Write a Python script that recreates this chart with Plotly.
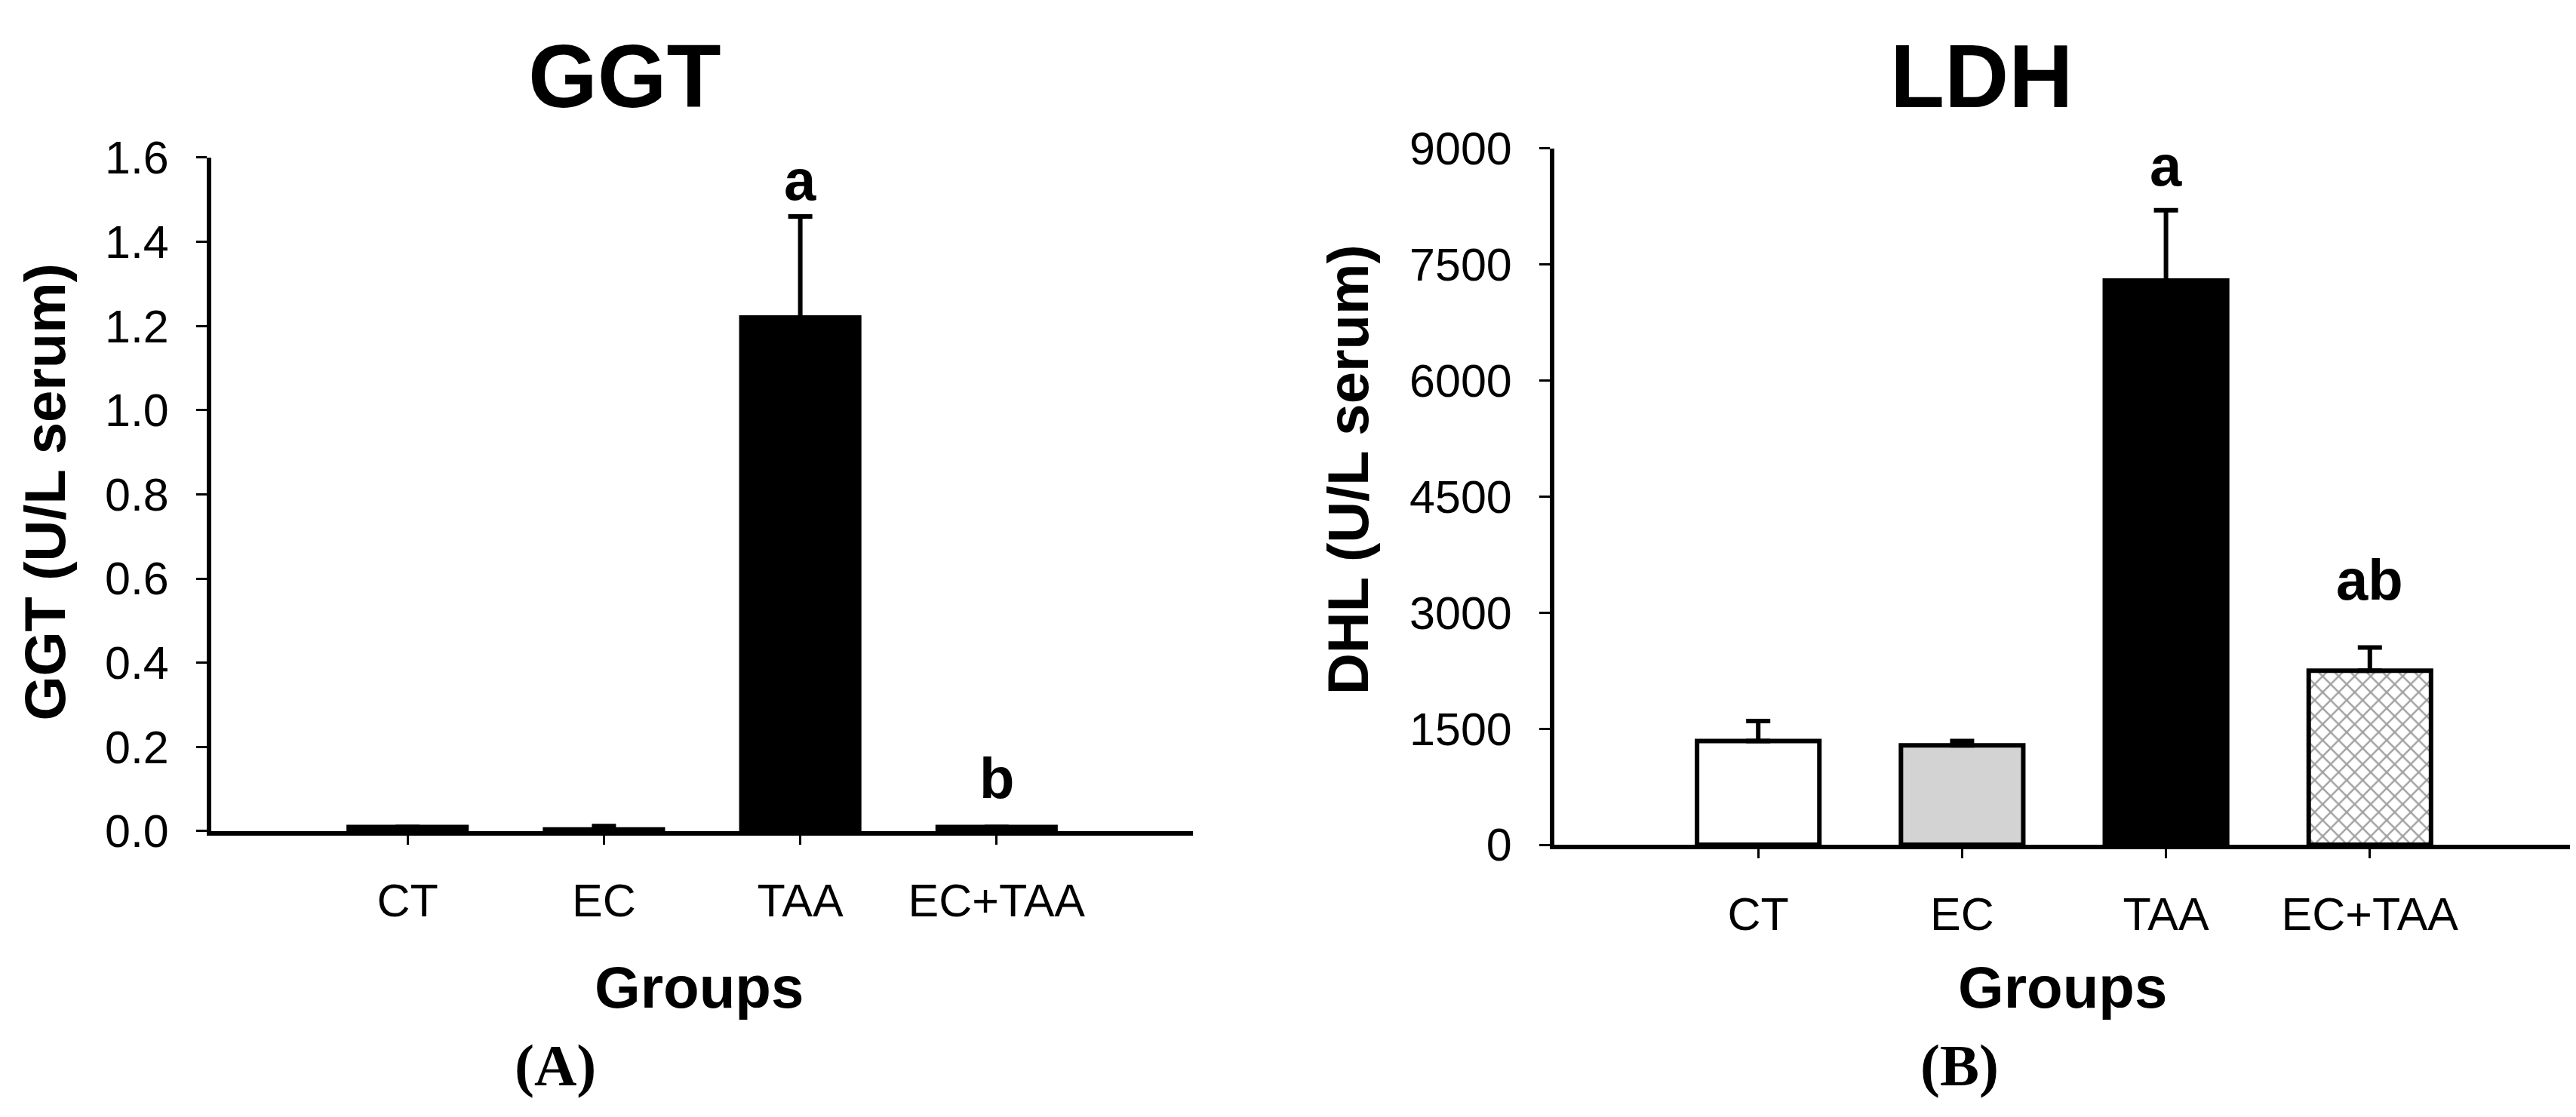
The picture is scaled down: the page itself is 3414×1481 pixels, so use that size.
import plotly.graph_objects as go

# ---------------- data ----------------
groups = ["CT", "EC", "TAA", "EC+TAA"]

ggt_mean = [0.010, 0.004, 1.22, 0.010]
ggt_err = [0.0, 0.008, 0.24, 0.0]
ggt_letters = ["", "", "a", "b"]
ggt_letter_y = [None, None, 1.496, 0.075]   # baseline of letter (data units)
ggt_ticks = [0, 0.2, 0.4, 0.6, 0.8, 1.0, 1.2, 1.4, 1.6]

ldh_mean = [1340, 1285, 7290, 2250]
ldh_err = [260, 55, 910, 300]
ldh_letters = ["", "", "a", "ab"]
ldh_letter_y = [None, None, 8500, 3150]
ldh_ticks = [0, 1500, 3000, 4500, 6000, 7500, 9000]

# ---------------- styles ----------------
W, H = 3414, 1481
fills = ["white", "#d3d3d3", "black", "white"]
patterns = ["", "", "", "x"]
SANS = "Liberation Sans, Arial, sans-serif"
SERIF = "Liberation Serif, Times New Roman, serif"

fig = go.Figure()

xpos = list(range(len(groups)))

def add_bars(means, errs, xa, ya):
    fig.add_trace(go.Bar(
        x=xpos, y=means, width=0.6,
        xaxis=xa, yaxis=ya,
        marker=dict(
            color=fills,
            line=dict(color="black", width=6),
            pattern=dict(shape=patterns, fgcolor="black", bgcolor="white",
                         size=15, solidity=0.3, fillmode="overlay"),
        ),
        error_y=dict(type="data", array=errs, arrayminus=[0] * len(errs),
                     symmetric=False, color="black", thickness=6, width=16),
        showlegend=False, hoverinfo="skip",
    ))

add_bars(ggt_mean, ggt_err, "x", "y")
add_bars(ldh_mean, ldh_err, "x2", "y2")

axis_common = dict(
    showline=True, linecolor="black", linewidth=6, mirror=False,
    showgrid=False, zeroline=False, ticks="outside", tickcolor="black",
    tickfont=dict(family=SANS, size=61, color="black"),
)

fig.update_layout(
    width=W, height=H,
    margin=dict(l=0, r=0, t=0, b=0),
    paper_bgcolor="white", plot_bgcolor="white",
    xaxis=dict(domain=[272 / W, 1573 / W], range=[-1, 4], anchor="y",
               tickvals=xpos, ticktext=groups, ticklen=12, tickwidth=3,
               ticklabelstandoff=22, **axis_common),
    yaxis=dict(domain=[1 - 1111 / H, 1 - 175 / H], range=[0, 1.6], anchor="x",
               tickvals=ggt_ticks, tickformat=".1f", ticklen=14, tickwidth=3,
               ticklabelstandoff=24, **axis_common),
    xaxis2=dict(domain=[2052 / W, 3403 / W], range=[-1, 4], anchor="y2",
                tickvals=xpos, ticktext=groups, ticklen=12, tickwidth=3,
                ticklabelstandoff=22, **axis_common),
    yaxis2=dict(domain=[1 - 1130 / H, 1 - 162 / H], range=[0, 9000], anchor="x2",
                tickvals=ldh_ticks, tickformat="d", ticklen=14, tickwidth=3,
                ticklabelstandoff=24, **axis_common),
)

ann = []
def txt(text, x, y, size, family=SANS, angle=0, xanchor="center", yanchor="middle"):
    ann.append(dict(text=text, x=x, y=y, xref="paper", yref="paper",
                    showarrow=False, textangle=angle, xanchor=xanchor, yanchor=yanchor,
                    font=dict(family=family, size=size, color="black")))

# titles
txt("<b>GGT</b>", 820 / W, 1 - 62 / H, 118)
txt("<b>LDH</b>", 2618 / W, 1 - 62 / H, 118)
# y titles
txt("<b>GGT (U/L serum)</b>", 52 / W, 1 - 640 / H, 76, angle=-90)
txt("<b>DHL (U/L serum)</b>", 1778 / W, 1 - 609 / H, 76, angle=-90)
# x titles
txt("<b>Groups</b>", 918 / W, 1 - 1328 / H, 78)
txt("<b>Groups</b>", 2725 / W, 1 - 1328 / H, 78)
# panel labels
txt("<b>(A)</b>", 728 / W, 1 - 1436 / H, 78, family=SERIF)
txt("<b>(B)</b>", 2589 / W, 1 - 1436 / H, 78, family=SERIF)

# significance letters
for letters, ys, xr, yr in [(ggt_letters, ggt_letter_y, "x", "y"),
                            (ldh_letters, ldh_letter_y, "x2", "y2")]:
    for i, (l, yv) in enumerate(zip(letters, ys)):
        if l:
            ann.append(dict(text=f"<b>{l}</b>", x=xpos[i], y=yv, xref=xr, yref=yr,
                            showarrow=False, xanchor="center", yanchor="bottom",
                            yshift=-16,
                            font=dict(family=SANS, size=76, color="black")))

fig.update_layout(annotations=ann)

fig.write_html("out.html")
